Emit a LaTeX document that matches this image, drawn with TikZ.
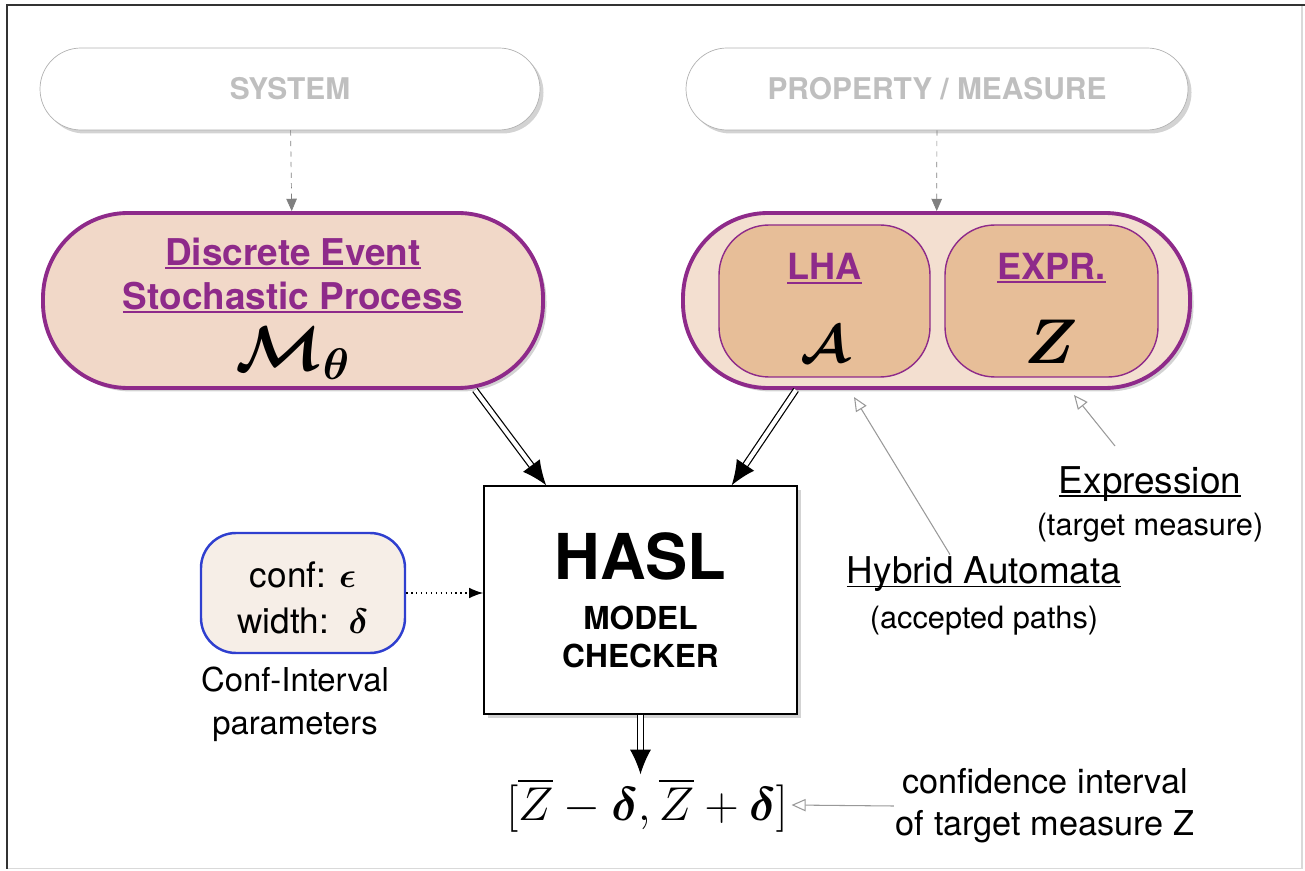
\RequirePackage{fix-cm}
\documentclass[tikz,border=0pt]{standalone}
\usepackage{amsmath}
\usepackage{amssymb}
\usepackage{fontspec}
\setmainfont{TeX Gyre Heros}
\usepackage{tikz}
\usetikzlibrary{positioning,arrows.meta,shadows,calc}

\definecolor{hpurple}{HTML}{8E2A8A}
\definecolor{peach}{HTML}{F1D8C8}
\definecolor{peachlight}{HTML}{F3DFD0}
\definecolor{peachdark}{HTML}{E7BE98}
\definecolor{confblue}{HTML}{2F3FCF}
\definecolor{conffill}{HTML}{F6EEE7}

% underline close to the baseline
\newcommand{\uln}[1]{\setbox0\hbox{#1}\rlap{\rule[-2.2pt]{\wd0}{1.1pt}}\box0}
\newcommand{\ptitle}[1]{\textcolor{hpurple}{\bfseries\uln{#1}}}

\tikzset{
  shade/.style={drop shadow={shadow xshift=0.07cm, shadow yshift=-0.07cm, opacity=0.35}},
  pill/.style={draw=gray!60, fill=white, shade, rounded corners=0.82cm,
    minimum width=10cm, minimum height=1.64cm, text=gray!50,
    font=\fontsize{17}{20}\selectfont\bfseries},
  bigpill/.style={draw=hpurple, line width=2.2pt, shade, rounded corners=1.7cm,
    minimum width=10cm, minimum height=3.5cm, align=center},
  inbox/.style={draw=hpurple, line width=0.8pt, fill=peachdark, rounded corners=1cm,
    minimum height=3.04cm, align=center, font=\fontsize{20.5}{25}\selectfont},
  note/.style={align=center, inner sep=1pt},
  feed/.style={gray, dashed, -{Triangle[length=7pt,width=6pt]}},
  dbl/.style={double, double distance=2.4pt, line width=0.7pt, -{Latex[length=14pt,width=12pt]}},
  hint/.style={gray!80, line width=0.6pt, -{Triangle[open,length=8pt,width=7pt]}}
}

\begin{document}
\begin{tikzpicture}
  \useasboundingbox (0,0) rectangle (26.1,17.4);
  % frame
  \draw[gray!30, line width=0.6pt] (0.14,0.03) -- (26.04,0.03) -- (26.04,17.3);
  \draw[black!80, line width=1.4pt] (0.14,0.03) -- (0.14,17.3) -- (26.1,17.3);

  % inputs
  \node[pill] (system) at (5.8,15.62) {SYSTEM};
  \node[pill, minimum width=10.04cm] (property) at (18.74,15.62) {PROPERTY / MEASURE};

  % model
  \node[bigpill, fill=peach, font=\fontsize{21}{25}\selectfont] (desp) at (5.86,11.39) {%
    \rule{0pt}{25pt}\ptitle{Discrete Event}\\
    \ptitle{Stochastic Process}\\[7pt]
    {\fontsize{36}{40}\selectfont$\boldsymbol{\mathcal{M}_{\theta}}$}};

  % property: automaton and expression
  \node[bigpill, fill=peachlight, minimum width=10.14cm] (prop) at (18.73,11.39) {};
  \node[inbox, minimum width=4.22cm] (lha) at (16.49,11.38) {%
    \rule{0pt}{23pt}\ptitle{LHA}\\[22pt]
    {\fontsize{30}{32}\selectfont$\boldsymbol{\mathcal{A}}$}};
  \node[inbox, minimum width=4.26cm] (expr) at (21.03,11.38) {%
    \rule{0pt}{23pt}\ptitle{EXPR.}\\[20pt]
    {\fontsize{36}{38}\selectfont$\boldsymbol{Z}$}};

  % checker
  \node[draw, line width=0.8pt, fill=white, shade, minimum width=6.26cm, minimum height=4.56cm,
    align=center, font=\fontsize{18}{21.5}\selectfont\bfseries] (hasl) at (12.81,5.4) {%
    {\fontsize{36}{40}\selectfont HASL}\\[7pt]
    MODEL\\
    CHECKER};

  % confidence parameters
  \node[draw=confblue, line width=1.4pt, fill=conffill, rounded corners=0.7cm,
    minimum width=4.08cm, minimum height=2.4cm, align=center,
    font=\fontsize{20}{26}\selectfont] (conf) at (6.06,5.54) {%
    \rule{0pt}{20pt}conf: $\boldsymbol{\epsilon}$\\
    width:~~$\boldsymbol{\delta}$};
  \node[note, below=0.22cm of conf, xshift=-0.16cm, font=\fontsize{18.7}{24}\selectfont] (confcap)
    {Conf-Interval\\ parameters};

  % result
  \node[inner sep=2pt, font=\fontsize{27}{32}\selectfont] (interval) at (12.94,1.3)
    {$[\overline{Z}-\boldsymbol{\delta},\overline{Z}+\boldsymbol{\delta}]$};
  \node[note, font=\fontsize{19.5}{24}\selectfont] (cinote) at (20.9,1.28)
    {confidence interval\\ of target measure Z};

  % side notes
  \node[note, font=\fontsize{17.5}{25.6}\selectfont] (hybrid) at (19.68,5.48)
    {{\fontsize{21}{25.6}\selectfont\uln{Hybrid Automata}}\\
    (accepted paths)};
  \node[note, font=\fontsize{17.5}{24}\selectfont] (expression) at (23.0,7.32)
    {{\fontsize{21}{24}\selectfont\uln{Expression}}\\
    (target measure)};
  \coordinate (hybridtip) at (17.08,9.46);
  \coordinate (exprtip) at (21.48,9.5);

  % connectors
  \draw[feed] (system) -- (desp);
  \draw[feed] (property) -- (prop);
  \draw[dbl] ([xshift=-1.4cm]desp.south east) -- ($(hasl.north west)!0.2!(hasl.north east)$);
  \draw[dbl] ($(prop.south)+(-2.81,0)$) -- ($(hasl.north west)!0.79!(hasl.north east)$);
  \draw[dbl] (hasl) -- (hasl.south |- interval.north);
  \draw[dotted, line width=0.8pt, -{Latex[length=8pt,width=6pt]}] (conf.east) -- (hasl.west |- conf.east);
  \draw[hint] ([xshift=-0.68cm]hybrid.north) -- (hybridtip);
  \draw[hint] ([xshift=-0.7cm,yshift=0.36cm]expression.north) -- (exprtip);
  \draw[hint] (cinote.west) -- (interval.east);
\end{tikzpicture}
\end{document}
